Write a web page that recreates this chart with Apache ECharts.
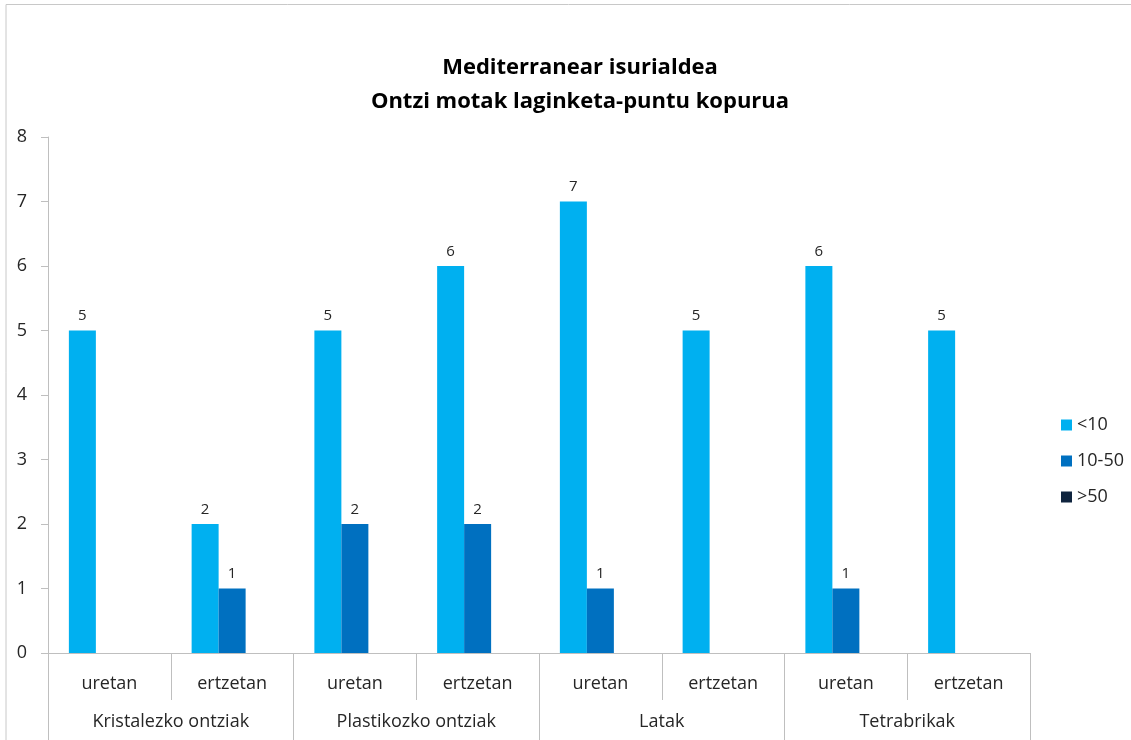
<!DOCTYPE html>
<html>
<head>
<meta charset="utf-8">
<script src="https://cdn.jsdelivr.net/npm/echarts@6/dist/echarts.min.js"></script>
<style>
  html, body { margin: 0; padding: 0; background: #fff; }
  #main { width: 1131px; height: 740px; }
</style>
</head>
<body>
<div id="main"></div>
<script>
// datu nagusiak
var kategoriak = ['uretan', 'ertzetan', 'uretan', 'ertzetan', 'uretan', 'ertzetan', 'uretan', 'ertzetan'];
var taldeak = ['Kristalezko ontziak', 'Plastikozko ontziak', 'Latak', 'Tetrabrikak'];
var txikia = [5, 2, 5, 6, 7, 5, 6, 5];      // <10
var ertaina = [0, 1, 2, 2, 1, 0, 1, 0];     // 10-50
var handia = [0, 0, 0, 0, 0, 0, 0, 0];      // >50

var letra = '"Open Sans", sans-serif';
var grisa = '#bfbfbf';

function etiketa(p) {
    return p.value ? p.value : '';
}

function seriea(izena, datuak, kolorea) {
    return {
        name: izena,
        type: 'bar',
        barWidth: 27,
        barGap: '0%',
        itemStyle: { color: kolorea },
        label: {
            show: true,
            position: 'top',
            distance: 7,
            formatter: etiketa,
            fontFamily: letra,
            fontSize: 15,
            color: '#262626'
        },
        data: datuak
    };
}

var option = {
    animation: false,
    textStyle: { fontFamily: letra },
    title: {
        text: 'Mediterranear isurialdea\nOntzi motak laginketa-puntu kopurua',
        left: 575,
        textAlign: 'center',
        top: 46,
        textStyle: {
            fontFamily: letra,
            fontSize: 22,
            fontWeight: 'bold',
            color: '#000',
            lineHeight: 34
        }
    },
    legend: {
        orient: 'vertical',
        left: 1056,
        top: 411,
        itemWidth: 11,
        itemHeight: 11,
        itemGap: 18,
        icon: 'rect',
        textStyle: { fontFamily: letra, fontSize: 18, color: '#262626' },
        data: ['<10', '10-50', '>50']
    },
    grid: {
        left: 48,
        right: 101,
        top: 137,
        bottom: 87
    },
    xAxis: [
        {
            type: 'category',
            data: kategoriak,
            axisLine: { lineStyle: { color: grisa } },
            axisTick: { show: true, interval: 0, length: 47, lineStyle: { color: grisa } },
            axisLabel: { interval: 0, margin: 22, fontSize: 18, color: '#262626', fontFamily: letra }
        },
        {
            type: 'category',
            position: 'bottom',
            data: taldeak,
            axisLine: { show: false },
            axisTick: { show: true, interval: 0, length: 87, lineStyle: { color: grisa } },
            axisLabel: { interval: 0, margin: 60, fontSize: 18, color: '#262626', fontFamily: letra }
        }
    ],
    yAxis: {
        type: 'value',
        min: 0,
        max: 8,
        interval: 1,
        splitLine: { show: false },
        axisLine: { show: true, lineStyle: { color: grisa } },
        axisTick: { show: true, length: 7, lineStyle: { color: grisa } },
        axisLabel: { fontSize: 18, color: '#262626', fontFamily: letra, margin: 21 }
    },
    graphic: [
        {
            type: 'polyline',
            shape: { points: [[6, 740], [6, 4.5], [1131, 4.5]] },
            style: { stroke: '#c8c8c8', lineWidth: 1, fill: null }
        }
    ],
    series: [
        seriea('<10', txikia, '#00B0F0'),
        seriea('10-50', ertaina, '#0070C0'),
        seriea('>50', handia, '#0F243E')
    ]
};

var myChart = echarts.init(document.getElementById('main'));
myChart.setOption(option);
</script>
</body>
</html>
